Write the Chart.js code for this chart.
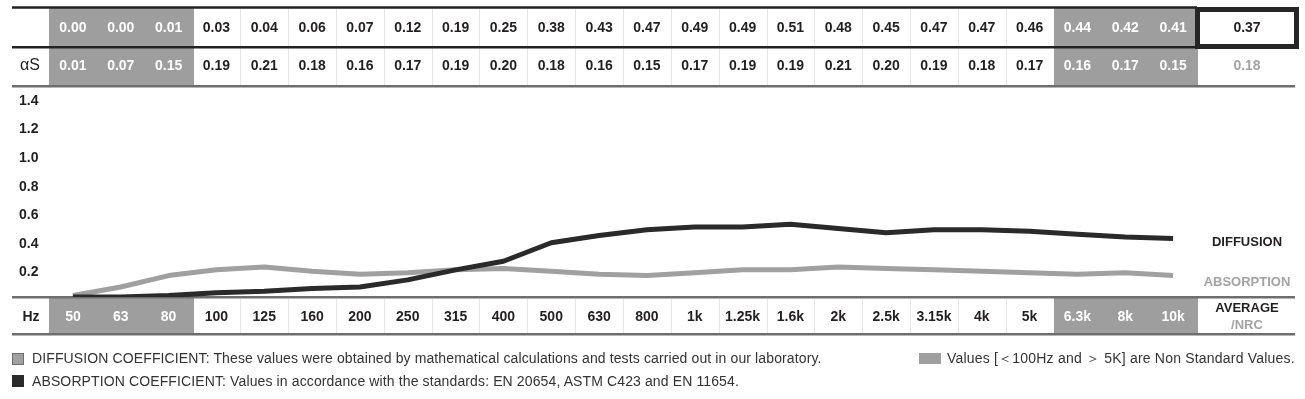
<!DOCTYPE html>
<html>
<head>
<meta charset="utf-8">
<script src="https://cdn.jsdelivr.net/npm/chart.js@4.4.1/dist/chart.umd.min.js"></script>
<style>
  body { margin: 0; background: #fff; }
  #wrap { position: relative; width: 1305px; height: 399px; }
  .nota { position: absolute; font-family: "Liberation Sans", Arial, sans-serif; font-size: 14px; color: #333; white-space: nowrap; line-height: 16px; letter-spacing: 0.12px; }
  .patrat { position: absolute; box-sizing: border-box; }
</style>
</head>
<body>
<div id="wrap">
  <canvas id="grafic"></canvas>
  <div class="patrat" style="left:12px;top:353px;width:12px;height:12px;background:#a0a0a0;border:1px solid #6f6f6f"></div>
  <div class="nota" style="left:32px;top:350px">DIFFUSION COEFFICIENT: These values were obtained by mathematical calculations and tests carried out in our laboratory.</div>
  <div class="patrat" style="left:12px;top:375px;width:12px;height:12px;background:#2a2a2a"></div>
  <div class="nota" style="left:32px;top:373px">ABSORPTION COEFFICIENT: Values in accordance with the standards: EN 20654, ASTM C423 and EN 11654.</div>
  <div class="patrat" style="left:919px;top:353px;width:22px;height:11px;background:#a0a0a0"></div>
  <div class="nota" style="left:947px;top:350px;letter-spacing:0.2px">Values [＜100Hz and ＞ 5K] are Non Standard Values.</div>
</div>
<script>
// frecvente (Hz) si valori
const frecvente = ['50', '63', '80', '100', '125', '160', '200', '250', '315', '400', '500', '630', '800',
    '1k', '1.25k', '1.6k', '2k', '2.5k', '3.15k', '4k', '5k', '6.3k', '8k', '10k'];
const difuzie = [0.00, 0.00, 0.01, 0.03, 0.04, 0.06, 0.07, 0.12, 0.19, 0.25, 0.38, 0.43, 0.47,
    0.49, 0.49, 0.51, 0.48, 0.45, 0.47, 0.47, 0.46, 0.44, 0.42, 0.41];
const absorbtie = [0.01, 0.07, 0.15, 0.19, 0.21, 0.18, 0.16, 0.17, 0.19, 0.20, 0.18, 0.16, 0.15,
    0.17, 0.19, 0.19, 0.21, 0.20, 0.19, 0.18, 0.17, 0.16, 0.17, 0.15];
const benziNestandard = ['50', '63', '80', '6.3k', '8k', '10k'];
const medieDifuzie = '0.37';
const medieAbsorbtie = '0.18';
const valoriAxaY = [0.2, 0.4, 0.6, 0.8, 1.0, 1.2, 1.4];

const NEGRU = '#231f20';
const GRI = '#9e9e9e';
const GRI_TEXT = '#a3a3a3';
const FONT = '"Liberation Sans", Arial, sans-serif';

// tabelul de sus si randul Hz, desenate dupa coloanele axei x
const tabel = {
    id: 'tabel',
    beforeDatasetsDraw(chart) {
        const ctx = chart.ctx;
        const sx = chart.scales.x;
        const pas = sx.getPixelForValue(1) - sx.getPixelForValue(0);
        const stanga = i => sx.getPixelForValue(i) - pas / 2;
        const dreapta = sx.getPixelForValue(frecvente.length - 1) + pas / 2;
        ctx.save();

        // benzile gri
        ctx.fillStyle = GRI;
        frecvente.forEach((f, i) => {
            if (!benziNestandard.includes(f)) return;
            const x0 = Math.round(stanga(i)), x1 = Math.round(stanga(i) + pas) + 1;
            ctx.fillRect(x0, 8, x1 - x0, 78);
            ctx.fillRect(x0, 298, x1 - x0, 36);
        });

        // separatoare verticale subtiri
        ctx.strokeStyle = '#e6e6e6';
        ctx.lineWidth = 1;
        for (let i = 1; i < frecvente.length; i++) {
            if (benziNestandard.includes(frecvente[i]) || benziNestandard.includes(frecvente[i - 1])) continue;
            const x = Math.round(stanga(i)) + 0.5;
            ctx.beginPath();
            ctx.moveTo(x, 9); ctx.lineTo(x, 46);
            ctx.moveTo(x, 48); ctx.lineTo(x, 85);
            ctx.moveTo(x, 299); ctx.lineTo(x, 333);
            ctx.stroke();
        }

        // linii orizontale
        const linie = (x0, x1, y, culoare) => {
            ctx.strokeStyle = culoare;
            ctx.lineWidth = 2.5;
            ctx.beginPath(); ctx.moveTo(x0, y); ctx.lineTo(x1, y); ctx.stroke();
        };
        linie(12, dreapta, 7.5, '#222');
        linie(12, dreapta, 47.2, '#222');
        linie(12, 1295, 86.2, '#6e6e6e');
        linie(12, 1295, 297.2, '#6e6e6e');
        linie(12, 1295, 334.2, '#6e6e6e');

        // caseta medie
        ctx.strokeStyle = '#262626';
        ctx.lineWidth = 5;
        ctx.strokeRect(dreapta + 0.5, 9.5, 99, 37);

        // texte
        ctx.textAlign = 'center';
        ctx.textBaseline = 'middle';
        ctx.font = 'bold 14px ' + FONT;
        frecvente.forEach((f, i) => {
            const x = sx.getPixelForValue(i);
            ctx.fillStyle = benziNestandard.includes(f) ? '#fff' : NEGRU;
            ctx.fillText(difuzie[i].toFixed(2), x, 28);
            ctx.fillText(absorbtie[i].toFixed(2), x, 66);
            ctx.fillText(f, x, 317);
        });
        const xm = dreapta + 50;
        ctx.fillStyle = NEGRU;
        ctx.fillText(medieDifuzie, xm, 28);
        ctx.fillStyle = GRI_TEXT;
        ctx.fillText(medieAbsorbtie, xm, 66);

        ctx.fillStyle = NEGRU;
        ctx.fillText('Hz', 31, 317);
        ctx.font = '16px ' + FONT;
        ctx.fillText('αS', 30, 66);

        ctx.font = 'bold 13px ' + FONT;
        ctx.fillStyle = NEGRU;
        ctx.fillText('DIFFUSION', xm, 242);
        ctx.fillText('AVERAGE', xm, 308);
        ctx.fillStyle = GRI_TEXT;
        ctx.fillText('ABSORPTION', xm, 282);
        ctx.fillText('/NRC', xm, 325);
        ctx.restore();
    }
};

const ctxGrafic = document.getElementById('grafic').getContext('2d');
new Chart(ctxGrafic, {
    type: 'line',
    data: {
        labels: frecvente,
        datasets: [
            {
                label: 'DIFFUSION',
                data: difuzie,
                borderColor: '#2a2a2a',
                borderWidth: 5,
                pointRadius: 0,
                tension: 0,
                borderJoinStyle: 'round'
            },
            {
                label: 'ABSORPTION',
                data: absorbtie,
                borderColor: '#a0a0a0',
                borderWidth: 5,
                pointRadius: 0,
                tension: 0,
                borderJoinStyle: 'round'
            }
        ]
    },
    options: {
        responsive: true,
        maintainAspectRatio: false,
        animation: false,
        layout: { padding: { left: 19, right: 108, top: 87, bottom: 102 } },
        plugins: { legend: { display: false }, tooltip: { enabled: false } },
        scales: {
            x: { display: false, offset: true },
            y: {
                min: 0,
                max: 1.47,
                grid: { display: false },
                border: { display: false },
                afterFit(scale) { scale.width = 30; },
                afterBuildTicks(scale) { scale.ticks = valoriAxaY.map(v => ({ value: v })); },
                ticks: {
                    crossAlign: 'far',
                    padding: 0,
                    labelOffset: 4,
                    color: NEGRU,
                    font: { family: FONT, size: 14, weight: 'bold' },
                    callback: v => Number(v).toFixed(1)
                }
            }
        }
    },
    plugins: [tabel]
});
</script>
</body>
</html>
